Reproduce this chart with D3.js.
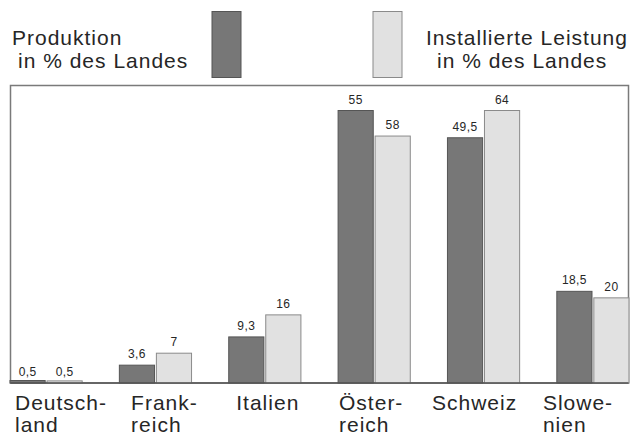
<!DOCTYPE html>
<html>
<head>
<meta charset="utf-8">
<script src="https://cdn.jsdelivr.net/npm/d3@7"></script>
<style>
  html, body { margin: 0; padding: 0; background: #fff; }
  svg { display: block; }
  text { font-family: "Liberation Sans", Arial, Helvetica, sans-serif; fill: #262626; }
</style>
</head>
<body>
<svg id="chart" width="631" height="437"></svg>
<script>
// Country categories and their two-line captions under the axis
const categories = ["Deutschland", "Frankreich", "Italien", "Österreich", "Schweiz", "Slowenien"];
const categoryLines = [["Deutsch-", "land"], ["Frank-", "reich"], ["Italien"], ["Öster-", "reich"], ["Schweiz"], ["Slowe-", "nien"]];

// Series values (percent of the respective country)
const produktion = [0.5, 3.6, 9.3, 55, 49.5, 18.5];
const leistung = [0.5, 7, 16, 58, 64, 20];
const produktionLabels = ["0,5", "3,6", "9,3", "55", "49,5", "18,5"];
const leistungLabels = ["0,5", "7", "16", "58", "64", "20"];

const seriesKeys = ["produktion", "leistung"];
const legendText = {
  produktion: ["Produktion", "in % des Landes"],
  leistung: ["Installierte Leistung", "in % des Landes"]
};

const colors = { produktion: "#777777", leistung: "#e1e1e1" };
const strokes = { produktion: "#555555", leistung: "#8a8a8a" };

const svg = d3.select("#chart");

// Plot frame
const frame = { left: 10.5, right: 628.5, top: 85.5, bottom: 383 };

// Group and bar positions
const x0 = d3.scaleBand().domain(categories).range([10, 629]).paddingInner(0.34).paddingOuter(0);
const x1 = d3.scaleBand().domain(seriesKeys).range([0, x0.bandwidth()]).paddingInner(0.05);

// Each series is drawn on its own vertical scale
const yScales = {
  produktion: d3.scaleLinear().domain([0, 55]).range([frame.bottom, 110.5]),
  leistung: d3.scaleLinear().domain([0, 64]).range([frame.bottom, 110.5])
};

// Caption centres run slightly inside the outer groups
const xLabel = d3.scalePoint().domain(categories).range([61, 578]);

// Frame rectangle
svg.append("rect")
  .attr("x", frame.left).attr("y", frame.top)
  .attr("width", frame.right - frame.left)
  .attr("height", frame.bottom - frame.top)
  .attr("fill", "none")
  .attr("stroke", "#7a7a7a")
  .attr("stroke-width", 1.5);

const rows = categories.map((c, i) => ({
  category: c,
  values: [
    { key: "produktion", value: produktion[i], label: produktionLabels[i] },
    { key: "leistung", value: leistung[i], label: leistungLabels[i] }
  ]
}));

const groups = svg.append("g").selectAll("g")
  .data(rows)
  .join("g")
  .attr("transform", d => `translate(${x0(d.category)},0)`);

groups.selectAll("rect")
  .data(d => d.values)
  .join("rect")
  .attr("x", d => x1(d.key))
  .attr("y", d => yScales[d.key](d.value))
  .attr("width", x1.bandwidth())
  .attr("height", d => frame.bottom - yScales[d.key](d.value))
  .attr("fill", d => colors[d.key])
  .attr("stroke", d => strokes[d.key])
  .attr("stroke-width", 1);

// Value labels above the bars
groups.selectAll("text.value")
  .data(d => d.values)
  .join("text")
  .attr("class", "value")
  .attr("x", d => x1(d.key) + x1.bandwidth() / 2)
  .attr("y", d => yScales[d.key](d.value) - (d.value < 2 ? 4.5 : 7))
  .attr("text-anchor", "middle")
  .attr("font-size", 12)
  .attr("letter-spacing", 0.4)
  .text(d => d.label);

// Baseline across the frame
svg.append("line")
  .attr("x1", frame.left).attr("x2", frame.right)
  .attr("y1", frame.bottom).attr("y2", frame.bottom)
  .attr("stroke", "#555").attr("stroke-width", 1.5);

// Category captions: left-aligned blocks centred on their positions
categories.forEach((c, i) => {
  const g = svg.append("g");
  const t = g.append("text")
    .attr("font-size", 21)
    .attr("letter-spacing", 1);
  categoryLines[i].forEach((line, j) => {
    t.append("tspan")
      .attr("x", 0)
      .attr("y", 410 + j * 22)
      .text(line);
  });
  const w = d3.max(t.selectAll("tspan").nodes(), n => n.getComputedTextLength());
  g.attr("transform", `translate(${xLabel(c) - w / 2},0)`);
});

// Legend
const legend = svg.append("g");
const legendItems = [
  { key: "produktion", swatchX: 212, textX: [12, 18] },
  { key: "leistung", swatchX: 373, textX: [426, 437] }
];
legendItems.forEach(item => {
  legend.append("rect")
    .attr("x", item.swatchX).attr("y", 11.5)
    .attr("width", 29).attr("height", 66)
    .attr("fill", colors[item.key])
    .attr("stroke", strokes[item.key])
    .attr("stroke-width", 1);
  legendText[item.key].forEach((line, j) => {
    legend.append("text")
      .attr("x", item.textX[j])
      .attr("y", 45 + j * 23)
      .attr("font-size", 21)
      .attr("letter-spacing", 1)
      .text(line);
  });
});
</script>
</body>
</html>
